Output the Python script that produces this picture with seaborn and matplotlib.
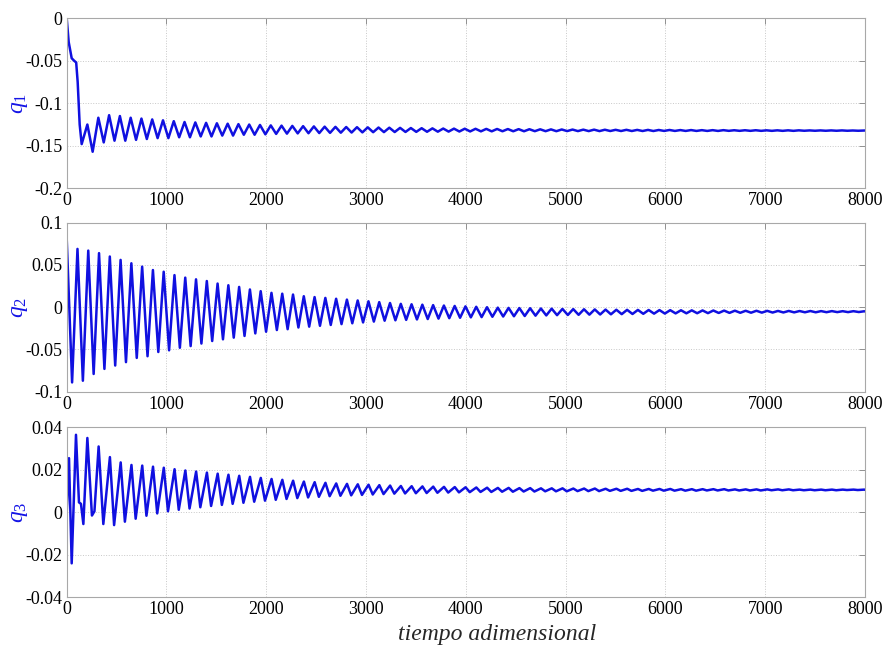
import numpy as np
import pandas as pd
import seaborn as sns
import matplotlib
matplotlib.use("Agg")
import matplotlib.pyplot as plt

# values: transient points, then successive peaks / troughs
PERIOD = 108  # oscillation period (time units), same for all three signals

# q1
q1_early_t = [0, 20, 50, 75, 95, 110, 130, 150, 207, 260]
q1_early_v = [0.0, -0.028, -0.047, -0.050, -0.052, -0.075, -0.125, -0.148, -0.125, -0.157]
q1_peak_t0 = 317
q1_peaks = [-0.117, -0.114, -0.115, -0.117, -0.118, -0.119, -0.120, -0.121, -0.122, -0.1225,
            -0.123, -0.1235, -0.124, -0.1245, -0.125, -0.1255, -0.126, -0.1263, -0.1266, -0.1269,
            -0.1272, -0.1275, -0.1277, -0.1279, -0.1281, -0.1283, -0.1285, -0.1287, -0.1289, -0.1291,
            -0.1293, -0.1295, -0.1297, -0.1298, -0.1299, -0.1300, -0.1301, -0.1302, -0.1303, -0.1304,
            -0.1305, -0.1306, -0.1307, -0.1308, -0.1309, -0.1310, -0.1310, -0.1311, -0.1312, -0.1312,
            -0.1313, -0.1313, -0.1314, -0.1314, -0.1315, -0.1315, -0.1316, -0.1316, -0.1316, -0.1317,
            -0.1317, -0.1317, -0.1318, -0.1318, -0.1318, -0.1318, -0.1319, -0.1319, -0.1319, -0.1319,
            -0.1320, -0.1320]
q1_trough_t0 = 371
q1_troughs = [-0.146, -0.144, -0.144, -0.143, -0.142, -0.141, -0.141, -0.140, -0.140, -0.139,
              -0.139, -0.138, -0.138, -0.137, -0.137, -0.1365, -0.136, -0.1357, -0.1354, -0.1352,
              -0.135, -0.1348, -0.1346, -0.1344, -0.1342, -0.134, -0.1339, -0.1338, -0.1337, -0.1336,
              -0.1335, -0.1334, -0.1333, -0.1332, -0.1331, -0.1330, -0.1330, -0.1329, -0.1329, -0.1329,
              -0.1328, -0.1328, -0.1328, -0.1327, -0.1327, -0.1327, -0.1327, -0.1326, -0.1326, -0.1326,
              -0.1326, -0.1326, -0.1325, -0.1325, -0.1325, -0.1325, -0.1325, -0.1325, -0.1324, -0.1324,
              -0.1324, -0.1324, -0.1324, -0.1324, -0.1324, -0.1323, -0.1323, -0.1323, -0.1323, -0.1323,
              -0.1323]
q1_end = -0.132

# q2
q2_early_t = []
q2_early_v = []
q2_peak_t0 = 0
q2_peaks = [0.081, 0.069, 0.067, 0.064, 0.060, 0.056, 0.052, 0.048, 0.044, 0.042,
            0.038, 0.035, 0.033, 0.031, 0.028, 0.026, 0.024, 0.021, 0.019, 0.017,
            0.016, 0.015, 0.013, 0.012, 0.011, 0.010, 0.009, 0.008, 0.007, 0.006,
            0.005, 0.004, 0.0035, 0.003, 0.0025, 0.002, 0.0015, 0.001, 0.0005, 0.0,
            -0.0005, -0.0008, -0.001, -0.0012, -0.0015, -0.0017, -0.002, -0.0022, -0.0024, -0.0026,
            -0.0028, -0.003, -0.0031, -0.0032, -0.0033, -0.0034, -0.0035, -0.0036, -0.0037, -0.0038,
            -0.0039, -0.004, -0.0041, -0.0042, -0.0042, -0.0043, -0.0044, -0.0044, -0.0045, -0.0045,
            -0.0046, -0.0046, -0.0047, -0.0047, -0.0048]
q2_trough_t0 = 54
q2_troughs = [-0.089, -0.087, -0.079, -0.073, -0.069, -0.065, -0.060, -0.058, -0.053, -0.051,
              -0.048, -0.046, -0.043, -0.040, -0.038, -0.036, -0.034, -0.031, -0.029, -0.027,
              -0.026, -0.024, -0.023, -0.022, -0.021, -0.020, -0.019, -0.018, -0.017, -0.016,
              -0.0155, -0.015, -0.0145, -0.014, -0.0135, -0.013, -0.0125, -0.012, -0.0117, -0.0113,
              -0.011, -0.0107, -0.0104, -0.010, -0.0097, -0.0094, -0.0092, -0.009, -0.0088, -0.0086,
              -0.0084, -0.0082, -0.008, -0.0078, -0.0076, -0.0075, -0.0073, -0.0072, -0.0071, -0.007,
              -0.0068, -0.0067, -0.0066, -0.0065, -0.0064, -0.0063, -0.0062, -0.0061, -0.006, -0.006,
              -0.0059, -0.0058, -0.0058, -0.0057]
q2_end = -0.005

# q3
q3_early_t = [0, 23, 50, 93, 123, 143, 167, 207, 253, 278, 320]
q3_early_v = [0.0, 0.0255, -0.024, 0.0365, 0.0047, 0.004, -0.0055, 0.035, -0.0015, 0.0005, 0.031]
q3_peak_t0 = 433
q3_peaks = [0.026, 0.0235, 0.0223, 0.022, 0.0215, 0.021, 0.0203, 0.0197, 0.0192, 0.0187,
            0.0182, 0.0177, 0.0172, 0.0167, 0.0162, 0.0157, 0.0153, 0.0149, 0.0145, 0.0142,
            0.0139, 0.0136, 0.0134, 0.0132, 0.0130, 0.0128, 0.0126, 0.0124, 0.0123, 0.0122,
            0.0121, 0.0120, 0.0119, 0.0118, 0.0117, 0.0116, 0.0115, 0.0115, 0.0114, 0.0114,
            0.0113, 0.0113, 0.0113, 0.0112, 0.0112, 0.0112, 0.0111, 0.0111, 0.0111, 0.0110,
            0.0110, 0.0110, 0.0110, 0.0109, 0.0109, 0.0109, 0.0109, 0.0109, 0.0108, 0.0108,
            0.0108, 0.0108, 0.0108, 0.0108, 0.0107, 0.0107, 0.0107, 0.0107, 0.0107, 0.0107,
            0.0107]
q3_trough_t0 = 367
q3_troughs = [-0.0055, -0.006, -0.0044, -0.003, -0.0016, -0.0005, 0.0005, 0.0012, 0.0018, 0.0024,
              0.003, 0.0035, 0.004, 0.0045, 0.005, 0.0055, 0.0059, 0.0063, 0.0067, 0.007,
              0.0073, 0.0076, 0.0078, 0.008, 0.0082, 0.0084, 0.0086, 0.0088, 0.0089, 0.009,
              0.0091, 0.0092, 0.0093, 0.0094, 0.0095, 0.0096, 0.0096, 0.0097, 0.0097, 0.0098,
              0.0098, 0.0099, 0.0099, 0.0099, 0.0100, 0.0100, 0.0100, 0.0101, 0.0101, 0.0101,
              0.0101, 0.0102, 0.0102, 0.0102, 0.0102, 0.0102, 0.0103, 0.0103, 0.0103, 0.0103,
              0.0103, 0.0103, 0.0104, 0.0104, 0.0104, 0.0104, 0.0104, 0.0104, 0.0104, 0.0105,
              0.0105]
q3_end = 0.0106

x_ticks = [0, 1000, 2000, 3000, 4000, 5000, 6000, 7000, 8000]
q1_ticks = [0, -0.05, -0.1, -0.15, -0.2]
q2_ticks = [0.1, 0.05, 0, -0.05, -0.1]
q3_ticks = [0.04, 0.02, 0, -0.02, -0.04]
y_names = ["$q_1$", "$q_2$", "$q_3$"]


def build(early_t, early_v, p_t0, peaks, tr_t0, troughs, end_v):
    t = list(early_t) + list(p_t0 + PERIOD * np.arange(len(peaks))) \
        + list(tr_t0 + PERIOD * np.arange(len(troughs))) + [8000]
    v = list(early_v) + list(peaks) + list(troughs) + [end_v]
    df = pd.DataFrame({"t": t, "q": v}).sort_values("t")
    return df[df.t <= 8000]


series = [
    build(q1_early_t, q1_early_v, q1_peak_t0, q1_peaks, q1_trough_t0, q1_troughs, q1_end),
    build(q2_early_t, q2_early_v, q2_peak_t0, q2_peaks, q2_trough_t0, q2_troughs, q2_end),
    build(q3_early_t, q3_early_v, q3_peak_t0, q3_peaks, q3_trough_t0, q3_troughs, q3_end),
]
yticks = [q1_ticks, q2_ticks, q3_ticks]

sns.set_theme(style="white")
plt.rcParams['font.family'] = ['Liberation Serif', 'DejaVu Serif']
plt.rcParams['mathtext.fontset'] = 'custom'
plt.rcParams['mathtext.rm'] = 'Liberation Serif'
plt.rcParams['mathtext.it'] = 'Liberation Serif:italic'
plt.rcParams['axes.unicode_minus'] = False

fig = plt.figure(figsize=(8.87, 6.48), dpi=100)
boxes = [[0.0752, 0.7094, 0.900, 0.2624],
         [0.0752, 0.3955, 0.900, 0.2608],
         [0.0752, 0.0782, 0.900, 0.2623]]

for i, df in enumerate(series):
    ax = fig.add_axes(boxes[i])
    sns.lineplot(data=df, x="t", y="q", ax=ax, color="#1010e0", lw=1.8,
                 estimator=None, sort=False, solid_joinstyle="round")
    ax.set_xlim(0, 8000)
    ax.set_ylim(min(yticks[i]), max(yticks[i]))
    ax.set_xticks(x_ticks)
    ax.set_yticks(yticks[i])
    ax.set_yticklabels([f"{v:g}" for v in yticks[i]])
    ax.grid(True, ls=":", color="#c8c8c8", lw=0.7)
    ax.tick_params(direction="in", length=4, width=0.7, color="#909090",
                   labelsize=13, labelcolor="black", top=True, right=True, pad=3)
    for s in ax.spines.values():
        s.set_color("#a8a8a8")
        s.set_linewidth(0.8)
    ax.set_ylabel(y_names[i], color="#1414e6", fontsize=17)
    ax.yaxis.set_label_coords(-0.046, 0.5)
    ax.set_xlabel("")

ax.set_xlabel("tiempo adimensional", fontsize=17, style="italic")
ax.xaxis.set_label_coords(0.539, -0.155)

fig.savefig("out.png", dpi=100)
